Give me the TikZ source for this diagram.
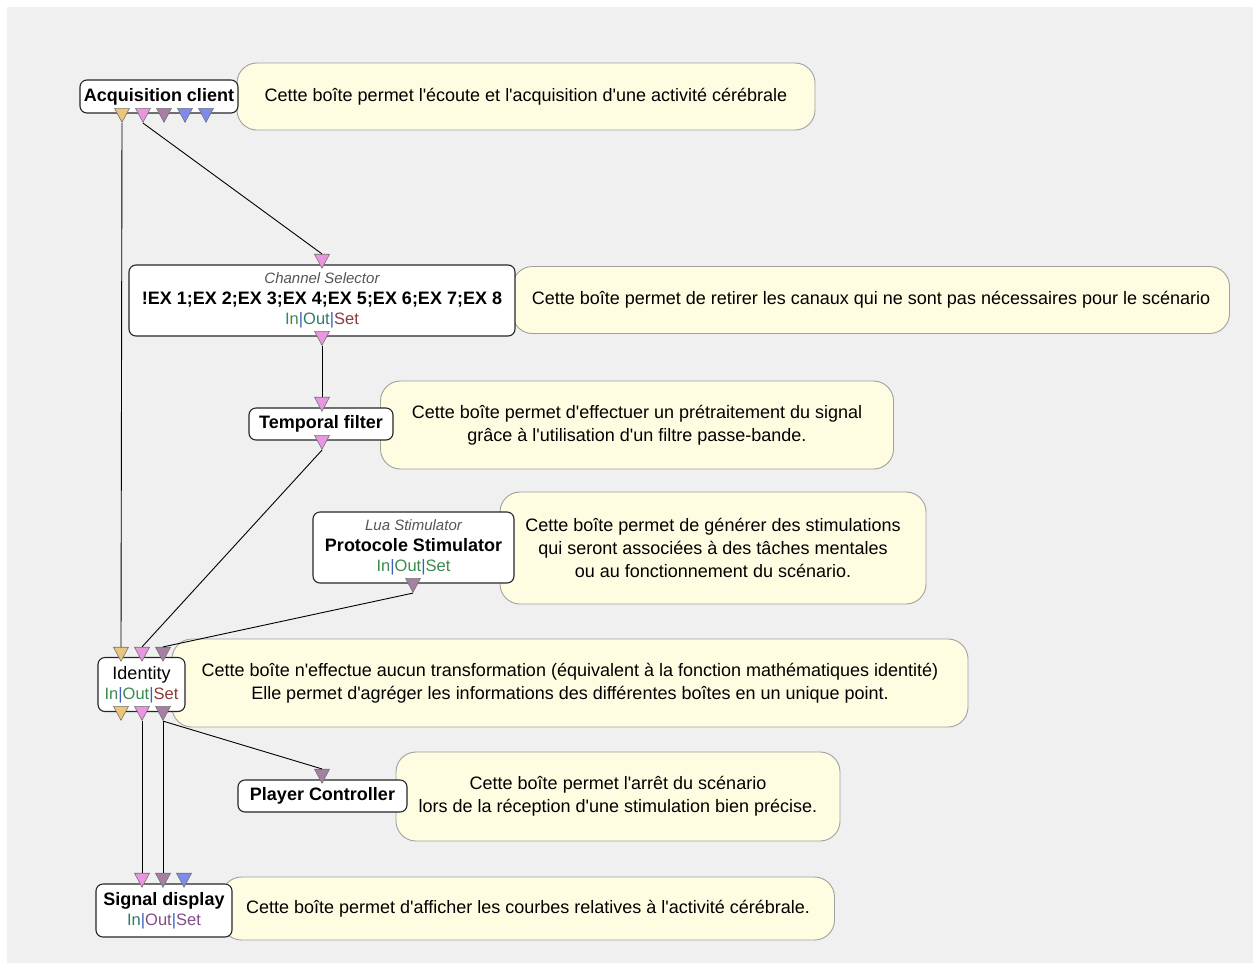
\documentclass[tikz,border=0pt]{standalone}
\usepackage{fontspec}
\newfontfamily\guifont{Liberation Sans}
\usetikzlibrary{shapes.geometric,positioning}

\definecolor{bggray}{HTML}{F0F0F0}
\definecolor{cmtfill}{HTML}{FFFDE1}
\definecolor{cmtdraw}{HTML}{A0A0A0}
\definecolor{plugyellow}{HTML}{E8C67B}
\definecolor{plugpink}{HTML}{E995DF}
\definecolor{plugmauve}{HTML}{A67FA5}
\definecolor{plugblue}{HTML}{7F8BEA}
\definecolor{iogreen}{HTML}{3D8A4E}
\definecolor{ioteal}{HTML}{2E7A66}
\definecolor{iored}{HTML}{8C3B3B}
\definecolor{iopurple}{HTML}{7E4E86}
\definecolor{ioblue}{HTML}{3A5FC4}
\definecolor{subgray}{HTML}{555555}

% In|Out|Set line of a box
\newcommand{\inoutset}[3]{{\fontsize{16.5}{20}\selectfont\color{#1}In\color{ioblue}|\color{#2}Out\color{ioblue}|\color{#3}Set}}
\newcommand{\boxsub}[1]{{\fontsize{15}{20}\selectfont\itshape\color{subgray}#1}}

\tikzset{
    box/.style={draw=black!85, fill=white, line width=1.1pt, rounded corners=7pt,
        align=center, inner sep=0pt, font=\guifont\fontsize{18}{20.5}\selectfont},
    cmt/.style={draw=cmtdraw, fill=cmtfill, line width=0.9pt, rounded corners=20pt,
        align=center, inner sep=0pt, font=\guifont\fontsize{18}{23}\selectfont},
    plug/.style={isosceles triangle, shape border rotate=270,
        isosceles triangle stretches, minimum width=15pt, minimum height=14pt,
        inner sep=0pt, draw=black!55, line width=0.6pt},
    link/.style={draw=black, line width=0.9pt}
}

\begin{document}
\begin{tikzpicture}[x=1pt, y=-1pt]
        \useasboundingbox (0,0) rectangle (1253,967);
        \fill[bggray] (7,7) rectangle (1253,963);

        % Comments, behind the boxes
        \node[cmt, minimum width=578pt, minimum height=67pt] (c-acq) at (526,96.5)
            {Cette boîte permet l'écoute et l'acquisition d'une activité cérébrale};
        \node[cmt, minimum width=717pt, minimum height=67pt] (c-chsel) at (871,300)
            {Cette boîte permet de retirer les canaux qui ne sont pas nécessaires pour le scénario};
        \node[cmt, minimum width=513pt, minimum height=88pt] (c-temp) at (637,425)
            {Cette boîte permet d'effectuer un prétraitement du signal\\
             grâce à l'utilisation d'un filtre passe-bande.};
        \node[cmt, minimum width=426pt, minimum height=112pt] (c-stim) at (713,548)
            {Cette boîte permet de générer des stimulations\\
             qui seront associées à des tâches mentales\\
             ou au fonctionnement du scénario.};
        \node[cmt, minimum width=796pt, minimum height=88pt] (c-ident) at (570,683)
            {Cette boîte n'effectue aucun transformation (équivalent à la fonction mathématiques identité)\\
             Elle permet d'agréger les informations des différentes boîtes en un unique point.};
        \node[cmt, minimum width=444pt, minimum height=89pt] (c-play) at (618,796.5)
            {Cette boîte permet l'arrêt du scénario\\
             lors de la réception d'une stimulation bien précise.};
        \node[cmt, minimum width=613pt, minimum height=63pt] (c-disp) at (528,908.5)
            {Cette boîte permet d'afficher les courbes relatives à l'activité cérébrale.};

        % Boxes
        \node[box, minimum width=158pt, minimum height=33pt] (acq) at (159,96.5)
            {\bfseries Acquisition client};
        \node[box, minimum width=386pt, minimum height=71pt] (chsel) at (322,300.5)
            {\boxsub{Channel Selector}\\
             \bfseries !EX 1;EX 2;EX 3;EX 4;EX 5;EX 6;EX 7;EX 8\\
             \inoutset{iogreen}{ioteal}{iored}};
        \node[box, minimum width=144pt, minimum height=32pt] (temp) at (321,424)
            {\bfseries Temporal filter};
        \node[box, minimum width=201pt, minimum height=71pt] (stim) at (413.5,547.5)
            {\boxsub{Lua Stimulator}\\
             \bfseries Protocole Stimulator\\
             \inoutset{iogreen}{iogreen}{iogreen}};
        \node[box, minimum width=87pt, minimum height=54pt] (ident) at (141.5,684.5)
            {Identity\\
             \inoutset{iogreen}{iogreen}{iored}};
        \node[box, minimum width=169pt, minimum height=32pt] (play) at (322.5,796)
            {\bfseries Player Controller};
        \node[box, minimum width=136pt, minimum height=53pt] (disp) at (164,910.5)
            {\bfseries Signal display\\
             \inoutset{ioteal}{iopurple}{iopurple}};

        % Output plugs (base inside the box, tip below)
        \begin{scope}[every node/.append style={plug, anchor=lower side}]
            \node[fill=plugyellow] (acq-o1) at (122,108) {};
            \node[fill=plugpink]   (acq-o2) at (143,108) {};
            \node[fill=plugmauve]  (acq-o3) at (164,108) {};
            \node[fill=plugblue]   (acq-o4) at (185,108) {};
            \node[fill=plugblue]   (acq-o5) at (206,108) {};
            \node[fill=plugpink]   (chsel-o1) at (322,331) {};
            \node[fill=plugpink]   (temp-o1) at (322,435) {};
            \node[fill=plugmauve]  (stim-o1) at (413,578) {};
            \node[fill=plugyellow] (ident-o1) at (121,706) {};
            \node[fill=plugpink]   (ident-o2) at (142,706) {};
            \node[fill=plugmauve]  (ident-o3) at (163,706) {};
        \end{scope}

        % Input plugs (base above the box, tip inside)
        \begin{scope}[every node/.append style={plug, anchor=apex}]
            \node[fill=plugpink]   (chsel-i1) at (322,269) {};
            \node[fill=plugpink]   (temp-i1) at (322,412) {};
            \node[fill=plugyellow] (ident-i1) at (121,662) {};
            \node[fill=plugpink]   (ident-i2) at (142,662) {};
            \node[fill=plugmauve]  (ident-i3) at (163,662) {};
            \node[fill=plugmauve]  (play-i1) at (322,784) {};
            \node[fill=plugpink]   (disp-i1) at (142,888) {};
            \node[fill=plugmauve]  (disp-i2) at (163,888) {};
            \node[fill=plugblue]   (disp-i3) at (184,888) {};
        \end{scope}

        % Links
        \begin{scope}[link]
            \draw (acq-o1.apex) -- (ident-i1.lower side);
            \draw (acq-o2.apex) -- (chsel-i1.lower side);
            \draw (chsel-o1.apex) -- (temp-i1.lower side);
            \draw (temp-o1.apex) -- (ident-i2.lower side);
            \draw (stim-o1.apex) -- (ident-i3.lower side);
            \draw (ident-o2.apex) -- (disp-i1.lower side);
            \draw (ident-o3.apex) -- (disp-i2.lower side);
            \draw (ident-o3.apex) -- (play-i1.lower side);
        \end{scope}

\end{tikzpicture}
\end{document}
